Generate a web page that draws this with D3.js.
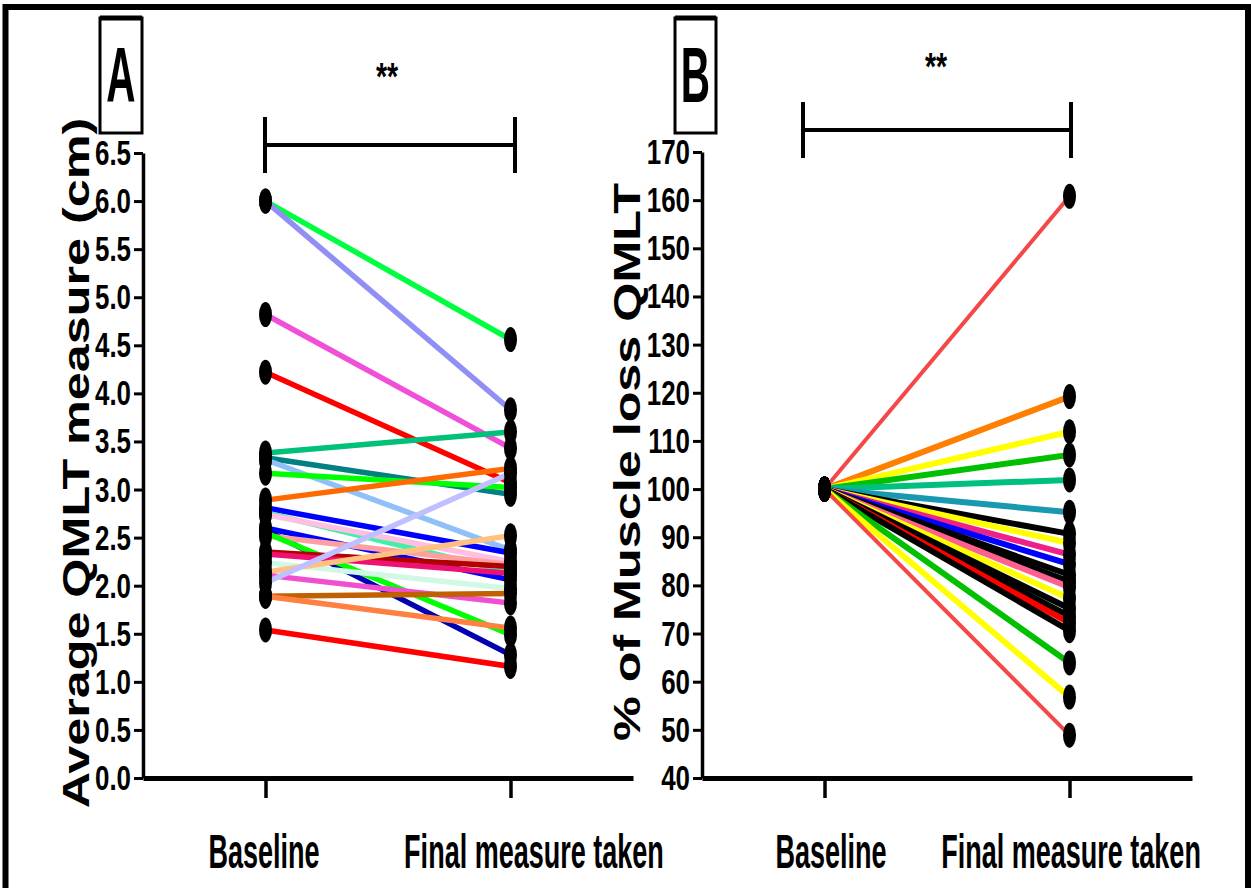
<!DOCTYPE html>
<html>
<head>
<meta charset="utf-8">
<script src="https://cdn.jsdelivr.net/npm/d3@7"></script>
<style>
body { margin: 0; background: #fff; }
text { font-family: "Liberation Sans", Arial, sans-serif; font-weight: bold; fill: #000; }
</style>
</head>
<body>
<div id="chart"></div>
<script>
// categories
const groups = ['Baseline', 'Final measure taken'];

// panel A : average QMLT measure (cm), one pair per subject
const aBaseline = [6.0, 6.0, 4.82, 4.22, 3.38, 3.33, 3.31, 3.17, 2.89, 2.81, 2.76, 2.74, 2.60, 2.58, 2.52, 2.55, 2.35, 2.33, 2.24, 2.14, 2.11, 2.03, 1.89, 1.89, 1.54];
const aFinal = [4.56, 3.83, 3.43, 3.07, 3.60, 2.95, 2.37, 3.02, 3.22, 2.34, 2.14, 2.25, 2.06, 1.28, 2.22, 1.49, 2.20, 2.13, 1.97, 2.52, 1.82, 3.17, 1.92, 1.56, 1.16];
const aColors = ['#00ff40', '#8f8ff5', '#f050d8', '#ff0000', '#00c07a', '#008080', '#90c0f8', '#00ff00', '#ff6a00', '#0000ff', '#40f0a8', '#ffbfe0', '#0000ff', '#0000b0', '#ffa0a0', '#00ff00', '#b00000', '#f01070', '#d0f8e4', '#ffc080', '#f050d0', '#c0c0ff', '#c06000', '#ff8040', '#ff0000'];
const aTicks = [0, 0.5, 1, 1.5, 2, 2.5, 3, 3.5, 4, 4.5, 5, 5.5, 6, 6.5];

// panel B : % of muscle loss, baseline is 100 for everyone
const bBaseline = [100, 100, 100, 100, 100, 100, 100, 100, 100, 100, 100, 100, 100, 100, 100, 100, 100, 100, 100, 100, 100];
const bFinal = [160.8, 119.2, 111.9, 107.1, 101.9, 95.2, 90.7, 88.8, 86.4, 84.4, 82.2, 80.8, 79.6, 77.3, 75.2, 73.6, 72.2, 70.6, 63.9, 56.8, 48.9];
const bColors = ['#f44848', '#ff8000', '#ffff00', '#00c000', '#00c080', '#1899b0', '#000000', '#ffff00', '#f0208a', '#0000ff', '#000000', '#000000', '#ff6090', '#ffff00', '#000000', '#000000', '#ff0000', '#000000', '#00c000', '#ffff00', '#f44848'];
const bTicks = [40, 50, 60, 70, 80, 90, 100, 110, 120, 130, 140, 150, 160, 170];

const W = 1251, H = 888;
const AXIS_Y = 778;
const SQ = 0.563;	// the figure's lettering is squeezed sideways

const svg = d3.select('#chart')
	.append('svg')
	.attr('width', W)
	.attr('height', H);

// outer frame (bottom edge runs off the picture)
svg.append('rect')
	.attr('x', 5.5).attr('y', 7)
	.attr('width', 1242.5).attr('height', 900)
	.attr('fill', 'none')
	.attr('stroke', '#000')
	.attr('stroke-width', 6);

//	one panel
const drawPanel = (cfg) => {
	const x = d3.scalePoint()
		.domain(groups)
		.range([cfg.left, cfg.left + 490])
		.padding(0.5);
	const y = d3.scaleLinear()
		.domain([cfg.ticks[0], cfg.ticks[cfg.ticks.length - 1]])
		.range([AXIS_Y, cfg.top]);

	// y axis
	const gy = svg.append('g')
		.attr('transform', 'translate(' + cfg.left + ',0)')
		.call(d3.axisLeft(y).tickValues(cfg.ticks).tickSize(9).tickSizeOuter(0).tickFormat(cfg.fmt));
	gy.select('.domain').attr('stroke-width', 3.5);
	gy.selectAll('.tick line').attr('stroke-width', 3);
	gy.selectAll('.tick text')
		.attr('font-size', 36)
		.attr('font-family', null)
		.attr('x', -12 / 0.72)
		.attr('transform', 'scale(0.72,1)');

	// x axis
	const gx = svg.append('g')
		.attr('transform', 'translate(0,' + AXIS_Y + ')')
		.call(d3.axisBottom(x).tickSize(20).tickSizeOuter(0).tickPadding(36));
	gx.select('.domain').attr('stroke-width', 5);
	gx.selectAll('.tick line').attr('stroke-width', 3.5);
	gx.selectAll('.tick text')
		.attr('font-size', 48)
		.attr('font-family', null)
		.attr('x', (d, i) => cfg.labelShift[i] / SQ)
		.attr('transform', 'scale(' + SQ + ',1)');

	// pair lines
	const pairs = cfg.base.map((b, i) => [[groups[0], b], [groups[1], cfg.fin[i]]]);
	const line = d3.line().x(d => x(d[0])).y(d => y(d[1]));
	svg.append('g')
		.selectAll('path')
		.data(pairs)
		.enter()
		.append('path')
		.attr('d', line)
		.attr('fill', 'none')
		.attr('stroke', (d, i) => cfg.colors[i])
		.attr('stroke-width', (d, i) => cfg.colors[i] === '#f44848' ? 4 : cfg.lineW);

	// points
	const pts = pairs.flat();
	svg.append('g')
		.selectAll('ellipse')
		.data(pts)
		.enter()
		.append('ellipse')
		.attr('cx', d => x(d[0]))
		.attr('cy', d => y(d[1]))
		.attr('rx', 6.5)
		.attr('ry', 12.5)
		.attr('fill', '#000');

	// axis title, stretched along its length
	svg.append('text')
		.attr('transform', 'translate(' + cfg.titleX + ',' + cfg.titleY + ') rotate(-90) scale(' + cfg.titleStretch + ',1)')
		.attr('text-anchor', 'middle')
		.attr('font-size', 37)
		.text(cfg.title);

	// panel letter box
	svg.append('rect')
		.attr('x', cfg.box[0]).attr('y', 18)
		.attr('width', cfg.box[1]).attr('height', 115)
		.attr('fill', '#fff')
		.attr('stroke', '#000')
		.attr('stroke-width', 3);
	svg.append('line')
		.attr('x1', cfg.box[0]).attr('x2', cfg.box[0] + cfg.box[1])
		.attr('y1', 18).attr('y2', 18)
		.attr('stroke', '#000').attr('stroke-width', 5);
	const cx = cfg.box[0] + cfg.box[1] / 2;
	svg.append('text')
		.attr('transform', 'translate(' + cx + ',102) scale(0.52,1)')
		.attr('text-anchor', 'middle')
		.attr('font-size', 78)
		.text(cfg.letter);

	// significance bracket
	const s = cfg.sig;
	const br = svg.append('g').attr('stroke', '#000').attr('stroke-width', 4);
	br.append('line').attr('x1', s.x1).attr('x2', s.x2).attr('y1', s.y).attr('y2', s.y);
	br.append('line').attr('x1', s.x1).attr('x2', s.x1).attr('y1', s.y - 28).attr('y2', s.y + 28);
	br.append('line').attr('x1', s.x2).attr('x2', s.x2).attr('y1', s.y - 28).attr('y2', s.y + 28);
	svg.append('text')
		.attr('transform', 'translate(' + s.sx + ',' + s.sy + ') scale(0.75,1)')
		.attr('text-anchor', 'middle')
		.attr('font-size', 38)
		.text('**');
};

drawPanel({
	left: 143, top: 153,
	ticks: aTicks, fmt: d3.format('.1f'),
	base: aBaseline, fin: aFinal, colors: aColors, lineW: 5.5,
	labelShift: [-2, 23],
	title: 'Average QMLT measure (cm)', titleX: 89, titleY: 463, titleStretch: 1.36,
	box: [100, 42], letter: 'A',
	sig: { x1: 265, x2: 515, y: 145, sx: 387, sy: 90 }
});

drawPanel({
	left: 702, top: 152,
	ticks: bTicks, fmt: d3.format('d'),
	base: bBaseline, fin: bFinal, colors: bColors, lineW: 6,
	labelShift: [6, 1],
	title: '% of Muscle loss QMLT', titleX: 640, titleY: 462, titleStretch: 1.36,
	box: [675, 41], letter: 'B',
	sig: { x1: 803, x2: 1071, y: 130, sx: 936, sy: 80 }
});
</script>
</body>
</html>
